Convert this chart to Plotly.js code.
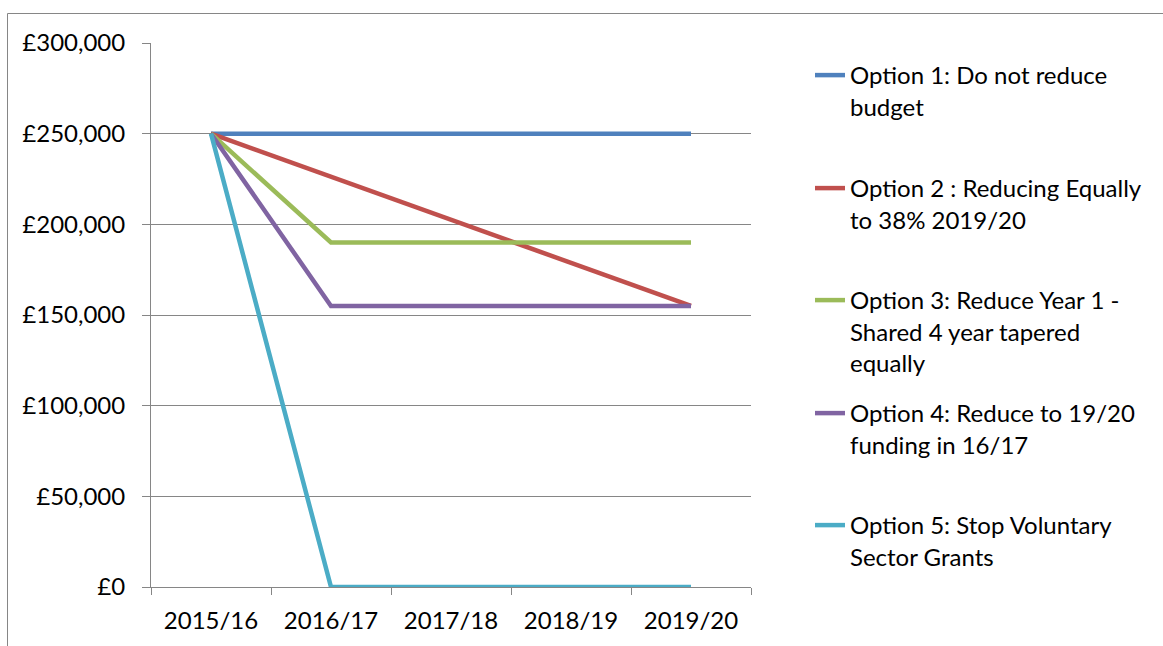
<!DOCTYPE html>
<html>
<head>
<meta charset="utf-8">
<script src="https://cdn.plot.ly/plotly-3.0.1.min.js"></script>
<style>html,body{margin:0;padding:0;background:#fff;}#chart{width:1163px;height:646px;}</style>
</head>
<body>
<div id="chart"></div>
<script>
const years = ["2015/16", "2016/17", "2017/18", "2018/19", "2019/20"];
const option1 = [250000, 250000, 250000, 250000, 250000];
const option2 = [250000, 226250, 202500, 178750, 155000];
const option3 = [250000, 190000, 190000, 190000, 190000];
const option4 = [250000, 155000, 155000, 155000, 155000];
const option5 = [250000, 0, 0, 0, 0];
const names = [
  "Option 1: Do not reduce<br>budget",
  "Option 2 : Reducing Equally<br>to 38% 2019/20",
  "Option 3: Reduce Year 1 -<br>Shared 4 year tapered<br>equally",
  "Option 4: Reduce to 19/20<br>funding in 16/17",
  "Option 5: Stop Voluntary<br>Sector Grants"
];
const series = [option1, option2, option3, option4, option5];
const colors = ["#4F81BD", "#C0504D", "#9BBB59", "#8064A2", "#4BACC6"];

const FONT = "Lato, 'Open Sans', sans-serif";
const FS = 24;
const L = 151, R = 751, T = 43, B = 587;
const pw = R - L, ph = B - T;
const px2x = p => (p - L) / pw;
const py2y = p => (B - p) / ph;

const legendTops = [53, 166, 278, 391, 503];
const legendKeys = ["legend", "legend2", "legend3", "legend4", "legend5"];

const traces = series.map((s, i) => ({
  type: "scatter", mode: "lines", x: years, y: s, name: names[i],
  line: {color: colors[i], width: 4.5},
  legend: legendKeys[i], showlegend: true, hoverinfo: "skip"
}));

const layout = {
  width: 1163, height: 646,
  margin: {l: L, r: 1163 - R, t: T, b: 646 - B, pad: 0},
  paper_bgcolor: "#ffffff", plot_bgcolor: "#ffffff",
  font: {family: FONT, size: FS, color: "#000000"},
  xaxis: {
    type: "category", range: [-0.5, 4.5], tickson: "boundaries",
    ticks: "outside", ticklen: 7, tickcolor: "#868686", tickwidth: 1,
    showline: true, linecolor: "#868686", linewidth: 1,
    showgrid: false, zeroline: false, fixedrange: true,
    tickfont: {family: FONT, size: FS, color: "#000"}, ticklabelstandoff: 12
  },
  yaxis: {
    range: [0, 300000], dtick: 50000, tickprefix: "£", tickformat: ",d",
    ticks: "outside", ticklen: 8, tickcolor: "#868686", tickwidth: 1,
    showline: true, linecolor: "#868686", linewidth: 1,
    showgrid: true, gridcolor: "#868686", gridwidth: 1,
    zeroline: false, fixedrange: true,
    tickfont: {family: FONT, size: FS, color: "#000"}, ticklabelstandoff: 12
  },
  shapes: [
    {type: "line", xref: "paper", yref: "paper", x0: px2x(7.5), x1: px2x(1200), y0: py2y(13.5), y1: py2y(13.5), line: {color: "#868686", width: 1}},
    {type: "line", xref: "paper", yref: "paper", x0: px2x(7.5), x1: px2x(7.5), y0: py2y(13.5), y1: py2y(700), line: {color: "#868686", width: 1}}
  ]
};
legendKeys.forEach((k, i) => {
  layout[k] = {
    x: px2x(810), y: py2y(legendTops[i]), xanchor: "left", yanchor: "top",
    xref: "paper", yref: "paper",
    valign: "top", bgcolor: "rgba(0,0,0,0)", borderwidth: 0,
    font: {family: FONT, size: FS, color: "#000"}, itemclick: false, itemdoubleclick: false
  };
});

Plotly.newPlot("chart", traces, layout, {staticPlot: true, displayModeBar: false});
</script>
</body>
</html>
